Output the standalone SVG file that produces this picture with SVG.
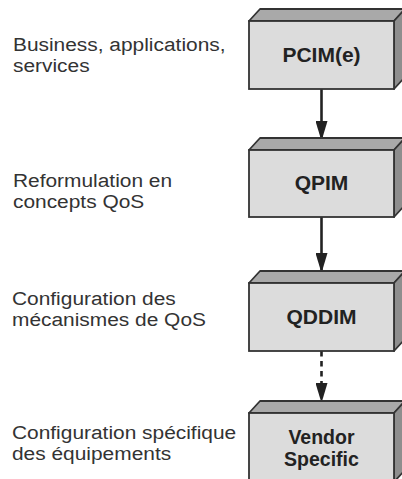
<svg xmlns="http://www.w3.org/2000/svg" width="402" height="479" viewBox="0 0 402 479">
<defs>
<style>
.lbl{font-family:"Liberation Sans",Arial,sans-serif;font-size:19px;fill:#333}
.bt{font-family:"Liberation Sans",Arial,sans-serif;font-size:21px;font-weight:bold;fill:#222;text-anchor:middle}
.front{fill:#dcdcdc;stroke:#333;stroke-width:1.8}
.top{fill:#a9a9a9;stroke:#333;stroke-width:1.8;stroke-linejoin:round}
.side{fill:#8e8e8e;stroke:#333;stroke-width:1.8;stroke-linejoin:round}
.conn{stroke:#222;stroke-width:2.6;fill:none}
</style>
<marker id="ah" viewBox="0 0 20 12" refX="20" refY="6" markerUnits="userSpaceOnUse" markerWidth="20" markerHeight="12" orient="auto">
<path d="M0,0 L20,6 L0,12 Z" fill="#222"/>
</marker>
</defs>

<g id="labels" transform="scale(1.1,1)">
<text class="lbl" x="11.8" y="51">Business, applications,</text>
<text class="lbl" x="11.8" y="72">services</text>
<text class="lbl" x="11.8" y="187">Reformulation en</text>
<text class="lbl" x="11.8" y="208">concepts QoS</text>
<text class="lbl" x="10.9" y="305">Configuration des</text>
<text class="lbl" x="10.9" y="326">mécanismes de QoS</text>
<text class="lbl" x="10.9" y="439">Configuration spécifique</text>
<text class="lbl" x="10.9" y="460">des équipements</text>
</g>

<g id="connectors">
<line class="conn" x1="321.5" y1="89" x2="321.5" y2="141" marker-end="url(#ah)"/>
<line class="conn" x1="321.5" y1="217" x2="321.5" y2="273" marker-end="url(#ah)"/>
<line class="conn" x1="321.5" y1="351" x2="321.5" y2="403" stroke-dasharray="5.5,4.5" marker-end="url(#ah)"/>
</g>

<g id="pcim">
<polygon class="top" points="249,21 260,9 405,9 394,21"/>
<polygon class="side" points="394,21 405,9 405,77 394,89"/>
<rect class="front" x="249" y="21" width="145" height="68"/>
<text class="bt" x="321.5" y="62">PCIM(e)</text>
</g>

<g id="qpim">
<polygon class="top" points="249,150 260,138 405,138 394,150"/>
<polygon class="side" points="394,150 405,138 405,205 394,217"/>
<rect class="front" x="249" y="150" width="145" height="67"/>
<text class="bt" x="321.5" y="190">QPIM</text>
</g>

<g id="qddim">
<polygon class="top" points="249,283 260,271 405,271 394,283"/>
<polygon class="side" points="394,283 405,271 405,339 394,351"/>
<rect class="front" x="249" y="283" width="145" height="68"/>
<text class="bt" x="321.5" y="324">QDDIM</text>
</g>

<g id="vendor">
<polygon class="top" points="249,413 260,401 405,401 394,413"/>
<polygon class="side" points="394,413 405,401 405,470 394,482"/>
<rect class="front" x="249" y="413" width="145" height="70"/>
<text class="bt" style="font-size:19.5px"><tspan x="321.5" y="444">Vendor</tspan><tspan x="321.5" y="465.5">Specific</tspan></text>
</g>
</svg>
